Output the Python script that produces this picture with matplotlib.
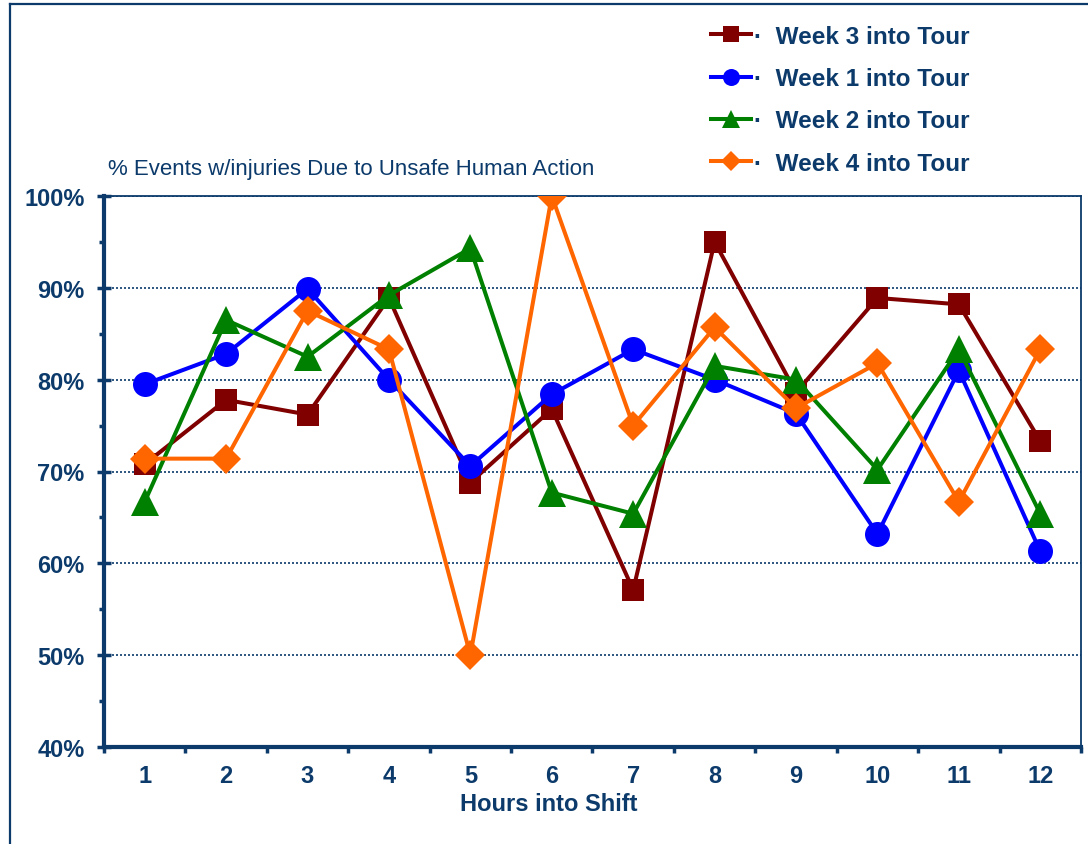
import matplotlib
matplotlib.use("Agg")
import matplotlib.pyplot as plt
from matplotlib.lines import Line2D
from matplotlib.ticker import FuncFormatter, MultipleLocator, FixedLocator

plt.rcParams['font.family'] = ['Liberation Sans', 'DejaVu Sans']

# Hours into the shift (x categories)
hours = [1, 2, 3, 4, 5, 6, 7, 8, 9, 10, 11, 12]

# Share of events with injuries due to unsafe human action, per week of tour (%)
week3 = [70.8, 77.8, 76.2, 88.9, 68.8, 76.8, 57.1, 95.0, 78.6, 88.9, 88.2, 73.3]
week1 = [79.5, 82.8, 89.9, 80.0, 70.6, 78.4, 83.3, 80.0, 76.3, 63.2, 81.0, 61.3]
week2 = [66.7, 86.5, 82.5, 89.2, 94.3, 67.7, 65.4, 81.5, 80.0, 70.2, 83.3, 65.4]
week4 = [71.4, 71.4, 87.5, 83.3, 50.0, 100.0, 75.0, 85.7, 76.9, 81.8, 66.7, 83.3]

series_labels = ["Week 3 into Tour", "Week 1 into Tour", "Week 2 into Tour", "Week 4 into Tour"]
y_ticks = [40, 50, 60, 70, 80, 90, 100]
title_text = "% Events w/injuries Due to Unsafe Human Action"
x_label = "Hours into Shift"

NAVY = "#0B3A6B"

fig = plt.figure(figsize=(10.88, 8.45), dpi=100)
ax = fig.add_axes([104 / 1088, 1 - 748 / 845, 977 / 1088, 551 / 845])

styles = [
    dict(color="#800000", marker="s", markersize=16.5),
    dict(color="#0000FF", marker="o", markersize=18),
    dict(color="#008000", marker="^", markersize=20),
    dict(color="#FF6600", marker="D", markersize=15),
]
handles = []
for vals, lab, st in zip([week3, week1, week2, week4], series_labels, styles):
    h, = ax.plot(hours, vals, linewidth=2.9, markeredgewidth=0,
                 label="·  " + lab, zorder=3, **st)
    handles.append(h)

ax.set_xlim(0.5, 12.5)
ax.set_ylim(40, 100)

# y axis
ax.yaxis.set_major_locator(FixedLocator(y_ticks))
ax.yaxis.set_minor_locator(MultipleLocator(5))
ax.yaxis.set_major_formatter(FuncFormatter(lambda v, p: f"{v:.0f}%"))
ax.tick_params(axis="y", which="major", direction="inout", length=10, width=2.5,
               color=NAVY, labelcolor=NAVY, labelsize=17, pad=9)
ax.tick_params(axis="y", which="minor", direction="out", length=3.5, width=2.5, color=NAVY)

# x axis: labels at the hours, ticks between them
ax.xaxis.set_major_locator(FixedLocator(hours))
ax.xaxis.set_minor_locator(FixedLocator([h + 0.5 for h in [0] + hours]))
ax.tick_params(axis="x", which="major", length=0, labelcolor=NAVY, labelsize=17, pad=12)
ax.tick_params(axis="x", which="minor", direction="out", length=4.5, width=2.5, color=NAVY)
for lbl in ax.get_xticklabels() + ax.get_yticklabels():
    lbl.set_fontweight("bold")

ax.set_xlabel(x_label, fontsize=17, fontweight="bold", color=NAVY)
ax.xaxis.set_label_coords((549 - 104) / 977, -(793 - 748) / 551)
ax.xaxis.label.set_verticalalignment("top")

# spines
for side in ("left", "bottom"):
    ax.spines[side].set_linewidth(3)
    ax.spines[side].set_color(NAVY)
for side in ("top", "right"):
    ax.spines[side].set_linewidth(1.3)
    ax.spines[side].set_color(NAVY)

ax.yaxis.grid(True, which="major", color=NAVY, linestyle=(0, (1.2, 1.2)), linewidth=1.2)
ax.set_axisbelow(True)

fig.text(108 / 1088, 1 - 170 / 845, title_text, fontsize=16, color=NAVY, va="center", ha="left")

leg = fig.legend(handles=handles, loc="upper left", bbox_to_anchor=(711 / 1088, 1 - 26 / 845),
                 frameon=False, prop=dict(size=17.5, weight="bold"), labelcolor=NAVY,
                 handlelength=1.65, handletextpad=0.1, labelspacing=0.79, borderpad=0,
                 borderaxespad=0, markerscale=0.68)

# outer frame lines
fig.add_artist(Line2D([9.5 / 1088, 9.5 / 1088], [0, 1 - 4.5 / 845], transform=fig.transFigure,
                      color=NAVY, linewidth=1.6))
fig.add_artist(Line2D([9.5 / 1088, 1], [1 - 4.5 / 845, 1 - 4.5 / 845], transform=fig.transFigure,
                      color=NAVY, linewidth=1.6))

fig.savefig("out.png", dpi=100)
